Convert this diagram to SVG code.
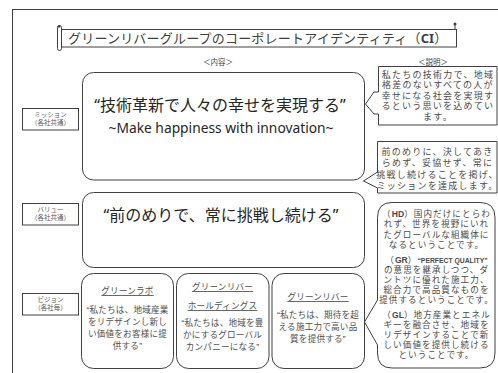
<svg xmlns="http://www.w3.org/2000/svg" width="498" height="373" viewBox="0 0 498 373">
<style>
text{font-family:"Noto Sans","Noto Sans CJK JP",sans-serif;fill:#404040}
.sm{font-family:"Liberation Sans","Noto Sans CJK JP",sans-serif}
.box{fill:#fff;stroke:#404040;stroke-width:1}
.big{font-size:16px;text-anchor:middle;fill:#262626}
.lab{font-size:6.5px;text-anchor:middle;fill:#595959}
.cl{font-size:9px;letter-spacing:1.25px;text-anchor:middle;fill:#4a4a4a}
.hd{font-size:8.6px;letter-spacing:1.05px;text-anchor:middle;fill:#4a4a4a}
.vs{font-size:8.6px;letter-spacing:0.2px;text-anchor:middle;fill:#505050}
.b{font-weight:bold;letter-spacing:0}
.u{text-decoration:underline}
</style>
<rect width="498" height="373" fill="#fff"/>
<rect x="12.5" y="9.5" width="500" height="380" fill="none" stroke="#404040"/>

<g id="title">
  <rect class="box" x="60.5" y="29.5" width="396" height="17.5"/>
  <rect class="box" x="57.5" y="25.5" width="4" height="25" rx="2"/>
  <circle cx="59" cy="26.5" r="1.3" fill="#404040"/>
  <line x1="455" y1="24" x2="455" y2="29.5" stroke="#404040"/>
  <circle cx="455" cy="24" r="1.5" fill="#404040"/>
  <text x="68" y="42.5" style="font-size:13px;letter-spacing:0.2px">グリーンリバーグループのコーポレートアイデンティティ（<tspan class="b">CI</tspan>）</text>
</g>
<text x="218" y="64.5" style="font-size:7.5px;text-anchor:middle">＜内容＞</text>
<text x="433" y="64.5" style="font-size:7.5px;text-anchor:middle">＜説明＞</text>

<g id="mission-label">
  <rect class="box" x="22.5" y="108.5" width="56" height="21.5"/>
  <text class="lab sm" x="50.5" y="117">ミッション</text>
  <text class="lab sm" x="50.5" y="125">（各社共通）</text>
</g>
<g id="mission">
  <rect class="box" x="82.5" y="72.5" width="282" height="107.5" rx="11"/>
  <text class="big" x="220" y="110.5">“技術革新で人々の幸せを実現する”</text>
  <text x="221" y="133" style="font-size:13.8px;text-anchor:middle;fill:#262626">~Make happiness with innovation~</text>
</g>

<g id="value-label">
  <rect class="box" x="22.5" y="203.5" width="56" height="21.5"/>
  <text class="lab sm" x="50.5" y="212">バリュー</text>
  <text class="lab sm" x="50.5" y="220">（各社共通）</text>
</g>
<g id="value">
  <rect class="box" x="82.5" y="192.5" width="282" height="75" rx="11"/>
  <text class="big" x="221" y="220.5">“前のめりで、常に挑戦し続ける”</text>
</g>

<g id="vision-label">
  <rect class="box" x="22.5" y="293.5" width="56" height="21.5"/>
  <text class="lab sm" x="50.5" y="302">ビジョン</text>
  <text class="lab sm" x="50.5" y="310">（各社毎）</text>
</g>
<g id="vision-lab">
  <rect class="box" x="81.5" y="273.5" width="92" height="95" rx="12"/>
  <text class="vs sm u" x="127.5" y="294">グリーンラボ</text>
  <text class="vs sm" x="127.5" y="313">“私たちは、地域産業</text>
  <text class="vs sm" x="127.5" y="325">をリデザインし新し</text>
  <text class="vs sm" x="127.5" y="337">い価値をお客様に提</text>
  <text class="vs sm" x="127.5" y="349">供する”</text>
</g>
<g id="vision-hd">
  <rect class="box" x="176.5" y="273.5" width="92.5" height="95" rx="12"/>
  <text class="vs sm u" x="222.5" y="290">グリーンリバー</text>
  <text class="vs sm u" x="222.5" y="309">ホールディングス</text>
  <text class="vs sm" x="222.5" y="326">“私たちは、地域を豊</text>
  <text class="vs sm" x="222.5" y="338">かにするグローバル</text>
  <text class="vs sm" x="222.5" y="350">カンパニーになる”</text>
</g>
<g id="vision-gr">
  <rect class="box" x="272" y="273.5" width="92.5" height="95" rx="12"/>
  <text class="vs sm u" x="318" y="300">グリーンリバー</text>
  <text class="vs sm" x="318" y="318">“私たちは、期待を超</text>
  <text class="vs sm" x="318" y="330">える施工力で高い品</text>
  <text class="vs sm" x="318" y="342">質を提供する”</text>
</g>

<g id="note-mission">
  <path class="box" d="M378.5,66.5 H497 V125 H378.5 V114 L374,114 L365.5,104 L374,92 L378.5,92 Z"/>
  <text class="cl sm" x="438" y="77.5">私たちの技術力で、地域</text>
  <text class="cl sm" x="438" y="88">格差のないすべての人が</text>
  <text class="cl sm" x="438" y="98.5">幸せになる社会を実現す</text>
  <text class="cl sm" x="438" y="109">るという思いを込めてい</text>
  <text class="cl sm" x="438" y="119.5">ます。</text>
</g>
<g id="note-value">
  <path class="box" d="M377.5,141.5 H497 V193 H377.5 V188 L363.5,181 L377.5,172 Z"/>
  <text class="cl sm" x="437.5" y="155">前のめりに、決してあき</text>
  <text class="cl sm" x="437.5" y="166">らめず、妥協せず、常に</text>
  <text class="cl sm" x="437.5" y="177.5">挑戦し続けることを掲げ、</text>
  <text class="cl sm" x="437.5" y="188.5">ミッションを達成します。</text>
</g>
<g id="note-vision">
  <path class="box" d="M392,202.5 H480 Q495,202.5 495,217.5 V353 Q495,368 480,368 H392 Q377.5,368 377.5,353 V345 L364.5,322 L377.5,300 V217.5 Q377.5,202.5 392,202.5 Z"/>
  <text class="hd sm" x="436.5" y="216.5">（<tspan class="b">HD</tspan>）国内だけにとらわ</text>
  <text class="hd sm" x="436.5" y="227">れず、世界を視野にいれ</text>
  <text class="hd sm" x="436.5" y="237.5">たグローバルな組織体に</text>
  <text class="hd sm" x="436.5" y="247.5">なるということです。</text>
  <text class="hd sm" x="436.5" y="262.5">（<tspan class="b">GR</tspan>）<tspan class="b" style="font-size:6.8px">“PERFECT QUALITY”</tspan></text>
  <text class="hd sm" x="436.5" y="272.5">の意思を継承しつつ、ダ</text>
  <text class="hd sm" x="436.5" y="282.5">ントツに優れた施工力、</text>
  <text class="hd sm" x="436.5" y="292.5">総合力で高品質なものを</text>
  <text class="hd sm" x="436.5" y="302.5">提供するということです。</text>
  <text class="hd sm" x="436.5" y="318">（<tspan class="b">GL</tspan>）地方産業とエネル</text>
  <text class="hd sm" x="436.5" y="328">ギーを融合させ、地域を</text>
  <text class="hd sm" x="436.5" y="338">リデザインすることで新</text>
  <text class="hd sm" x="436.5" y="348">しい価値を提供し続ける</text>
  <text class="hd sm" x="436.5" y="358">ということです。</text>
</g>
</svg>
